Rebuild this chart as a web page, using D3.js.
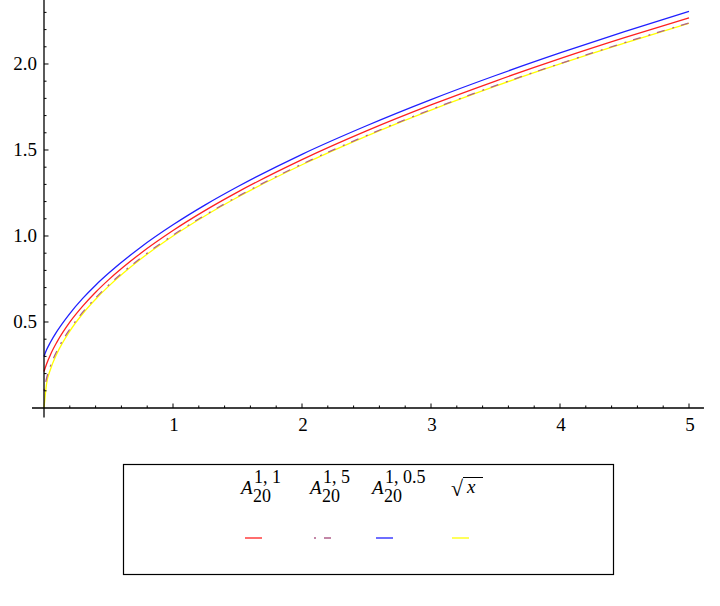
<!DOCTYPE html>
<html><head><meta charset="utf-8">
<script src="https://cdn.jsdelivr.net/npm/d3@7/dist/d3.min.js"></script>
<style>body{margin:0;background:#fff}svg{display:block}svg text{font-family:"Liberation Serif",serif !important}</style>
</head><body>
<svg id="c" width="720" height="606" style="font-family:'Liberation Serif',serif"></svg>
<script>
// sample x positions
const xs = [0, 0.02, 0.05, 0.1, 0.2, 0.3, 0.4, 0.5, 0.75, 1, 1.25, 1.5, 2, 2.5, 3, 3.5, 4, 4.5, 5];
// A_20^{1,1}
const a11 = [0.212, 0.256, 0.310, 0.383, 0.499, 0.592, 0.673, 0.745, 0.900, 1.032, 1.149, 1.255, 1.444, 1.611, 1.762, 1.901, 2.031, 2.153, 2.268];
// A_20^{1,5}
const a15 = [0.100, 0.173, 0.245, 0.332, 0.458, 0.557, 0.640, 0.714, 0.872, 1.005, 1.122, 1.229, 1.418, 1.584, 1.735, 1.874, 2.002, 2.124, 2.238];
// A_20^{1,0.5}
const a105 = [0.300, 0.338, 0.382, 0.445, 0.549, 0.637, 0.714, 0.783, 0.935, 1.065, 1.181, 1.286, 1.475, 1.641, 1.793, 1.933, 2.064, 2.188, 2.306];
// sqrt(x)
const sq = [0, 0.141, 0.224, 0.316, 0.447, 0.548, 0.632, 0.707, 0.866, 1.0, 1.118, 1.225, 1.414, 1.581, 1.732, 1.871, 2.0, 2.121, 2.236];
const xTicks = [1, 2, 3, 4, 5];
const yTicks = [0.5, 1.0, 1.5, 2.0];
const legendSups = ["1, 1", "1, 5", "1, 0.5"];

const FONT = "Liberation Serif";
const svg = d3.select("#c");
const x = d3.scaleLinear().domain([0, 5]).range([44, 689]);
const y = d3.scaleLinear().domain([0, 2.372]).range([408, 0]);

// curves
const series = [
  {v: sq, color: "#ffff00", dash: null},
  {v: a15, color: "#b0608a", dash: "2,7,8,8"},
  {v: a11, color: "#ff2020", dash: null},
  {v: a105, color: "#2020ff", dash: null}
];
const line = d3.line().x((d, i) => x(xs[i])).y(d => y(d)).curve(d3.curveMonotoneX);
series.forEach(s => {
  svg.append("path").attr("d", line(s.v)).attr("fill", "none")
    .attr("stroke", s.color).attr("stroke-width", 1.3)
    .attr("stroke-dasharray", s.dash);
});

// axes lines
svg.append("line").attr("x1", x(-0.093)).attr("x2", x(5.116)).attr("y1", y(0)).attr("y2", y(0))
  .attr("stroke", "#000").attr("stroke-width", 1.3);
svg.append("line").attr("x1", x(0)).attr("x2", x(0)).attr("y1", y(-0.055)).attr("y2", y(2.372))
  .attr("stroke", "#000").attr("stroke-width", 1.3);

// x ticks
const xMinor = d3.range(0.2, 5.01, 0.2).filter(t => Math.abs(t - Math.round(t)) > 1e-6);
const gx = svg.append("g");
gx.selectAll("line.mn").data(xMinor).join("line")
  .attr("x1", d => x(d)).attr("x2", d => x(d)).attr("y1", y(0)).attr("y2", y(0) - 2.5)
  .attr("stroke", "#000").attr("stroke-width", 1);
gx.selectAll("line.mj").data(xTicks).join("line")
  .attr("x1", d => x(d)).attr("x2", d => x(d)).attr("y1", y(0)).attr("y2", y(0) - 4.5)
  .attr("stroke", "#000").attr("stroke-width", 1);
gx.selectAll("text").data(xTicks).join("text")
  .style("font-family", FONT, "important")
  .attr("x", d => x(d) + 1).attr("y", 431).attr("text-anchor", "middle")
  .attr("font-size", 19).text(d => d);

// y ticks
const yMinor = d3.range(0.1, 2.36, 0.1).filter(t => Math.abs(t * 2 - Math.round(t * 2)) > 1e-6);
const gy = svg.append("g");
gy.selectAll("line.mn").data(yMinor).join("line")
  .attr("x1", x(0)).attr("x2", x(0) + 2.5).attr("y1", d => y(d)).attr("y2", d => y(d))
  .attr("stroke", "#000").attr("stroke-width", 1);
gy.selectAll("line.mj").data(yTicks).join("line")
  .attr("x1", x(0)).attr("x2", x(0) + 4.5).attr("y1", d => y(d)).attr("y2", d => y(d))
  .attr("stroke", "#000").attr("stroke-width", 1);
gy.selectAll("text").data(yTicks).join("text")
  .style("font-family", FONT, "important")
  .attr("x", 37).attr("y", d => y(d) + 6.5).attr("text-anchor", "end")
  .attr("font-size", 19).text(d => d3.format(".1f")(d));

// legend
const lg = svg.append("g");
lg.append("rect").attr("x", 123.5).attr("y", 464.5).attr("width", 490).attr("height", 110)
  .attr("fill", "none").attr("stroke", "#000").attr("stroke-width", 1.2);
const legItems = [
  {x0: 241, sup: legendSups[0], color: "#ff2020", dash: null},
  {x0: 310, sup: legendSups[1], color: "#b0608a", dash: "2,8,8,8"},
  {x0: 372, sup: legendSups[2], color: "#2020ff", dash: null}
];
legItems.forEach(it => {
  const t = lg.append("text").style("font-family", FONT, "important")
    .attr("x", it.x0).attr("y", 494).attr("font-size", 19);
  t.append("tspan").attr("font-style", "italic").text("A");
  t.append("tspan").attr("x", it.x0 + 12).attr("y", 502).attr("font-size", 18).text("20");
  t.append("tspan").attr("x", it.x0 + 13).attr("y", 483).attr("font-size", 18).text(it.sup);
  lg.append("line").attr("x1", it.x0 + 4).attr("x2", it.x0 + 21).attr("y1", 538).attr("y2", 538)
    .attr("stroke", it.color).attr("stroke-width", 1.3).attr("stroke-dasharray", it.dash);
});
// sqrt(x)
const st = lg.append("text").style("font-family", FONT, "important")
  .attr("x", 451).attr("y", 496).attr("font-size", 22);
st.append("tspan").text("\u221A");
st.append("tspan").attr("x", 467).attr("y", 493).attr("font-size", 19).attr("font-style", "italic").text("x");
lg.append("line").attr("x1", 463).attr("x2", 483).attr("y1", 477.5).attr("y2", 477.5)
  .attr("stroke", "#000").attr("stroke-width", 1);
lg.append("line").attr("x1", 452).attr("x2", 469).attr("y1", 538).attr("y2", 538)
  .attr("stroke", "#ffff00").attr("stroke-width", 1.3);
</script>
</body></html>
